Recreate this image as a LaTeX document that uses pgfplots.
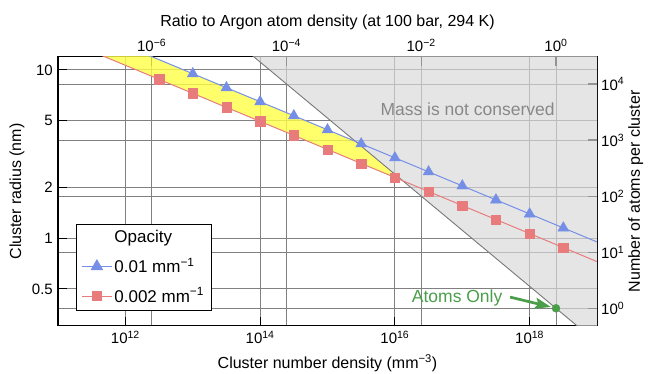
\documentclass[border=0pt]{standalone}
\usepackage{fontspec}
\setmainfont{Liberation Sans}
\usepackage{pgfplots}
\pgfplotsset{compat=1.18}
\usetikzlibrary{arrows.meta}
\definecolor{cblue}{RGB}{118,143,230}
\definecolor{cred}{RGB}{232,124,124}
\definecolor{cgreen}{RGB}{74,158,74}
\definecolor{cgrid}{RGB}{128,128,128}
\definecolor{cline}{RGB}{120,120,120}
\definecolor{cyel}{RGB}{255,255,70}
\definecolor{ctext}{RGB}{136,136,136}
\pgfplotsset{
  every axis/.append style={scale only axis, width=539pt, height=269pt, at={(0,0)}, anchor=south west,
    grid=major,
    major grid style={cgrid, line width=0.9pt},
    xminorticks=false, yminorticks=false,
    tick align=inside, major tick length=9pt,
    major tick style={black, line width=1.1pt},
    axis line style={black, line width=1pt},
    tick label style={font=\fontsize{15}{17}\selectfont},
    label style={font=\fontsize{16}{18}\selectfont},
  }
}
\begin{document}
\fontsize{15}{17}\selectfont
\begin{tikzpicture}
\path[use as bounding box] (-58pt,-48pt) rectangle (592pt,326pt);
% top / right axis
\begin{loglogaxis}[
  xmin=4.065e-8, xmax=4.065, ymin=0.4832, ymax=30250,
  xtick={1e-6,1e-4,1e-2,1},
  xticklabels={10\textsuperscript{−6},10\textsuperscript{−4},10\textsuperscript{−2},10\textsuperscript{0}},
  ytick={1,10,100,1000,10000},
  yticklabels={10\textsuperscript{0},10\textsuperscript{1},10\textsuperscript{2},10\textsuperscript{3},10\textsuperscript{4}},
  xtick pos=right, xticklabel pos=right, ytick pos=right, yticklabel pos=right,
  yticklabel style={anchor=west, xshift=-1pt},
  xlabel={Ratio to Argon atom density (at 100 bar, 294 K)},
  ylabel={Number of atoms per cluster},
  xlabel style={at={(axis description cs:0.5,1.13)}, anchor=center},
  ylabel style={at={(axis description cs:1.072,0.5)}, anchor=center},
]
\end{loglogaxis}
% main axis
\begin{loglogaxis}[
  xmin=1e11, xmax=1e19, ymin=0.3007, ymax=11.94,
  xtick={1e12,1e14,1e16,1e18},
  xticklabels={10\textsuperscript{12},10\textsuperscript{14},10\textsuperscript{16},10\textsuperscript{18}},
  ytick={0.5,1,2,5,10},
  yticklabels={0.5,1,2,5,10},
  xtick pos=left, xticklabel pos=left, ytick pos=left, yticklabel pos=left,
  xlabel={Cluster number density (mm\textsuperscript{−3})},
  ylabel={Cluster radius (nm)},
  xlabel style={at={(axis description cs:0.5,-0.1375)}, anchor=center},
  ylabel style={at={(axis description cs:-0.076,0.5)}, anchor=center},
  legend image code/.code={\draw[mark repeat=2,mark phase=2] plot coordinates {(0pt,0pt)(15pt,0pt)(30pt,0pt)};},
  legend style={at={(axis description cs:0.0334,0.379)}, anchor=north west,
    draw=black, line width=0.8pt, fill=white, font=\fontsize{17}{19}\selectfont,
    inner xsep=5pt, inner ysep=4pt, row sep=9pt},
  legend cell align=left,
]
\addlegendimage{empty legend}
\addlegendentry{Opacity}
\addlegendimage{cblue, line width=1pt, mark=triangle*, mark size=6.3pt}
\addlegendentry{0.01 mm\textsuperscript{−1}}
\addlegendimage{cred, line width=1pt, mark=square*, mark size=4.7pt}
\addlegendentry{0.002 mm\textsuperscript{−1}}

% yellow band (allowed region between the two curves)
\addplot[draw=none, fill=cyel, fill opacity=0.8, forget plot]
  coordinates {(1e11,20.47) (2.607e15,3.758) (1.31e16,2.195) (1e11,15.64)} -- cycle;
% mass not conserved region
\addplot[draw=none, fill=black!15, fill opacity=0.68, forget plot]
  coordinates {(5e13,14.04) (1e19,0.2401) (1e19,14.04)} -- cycle;
\addplot[cline, line width=0.9pt, forget plot]
  coordinates {(5e13,14.04) (1e19,0.2401)};

% curves
\addplot[cblue, line width=1pt, forget plot] coordinates {(1e11,20.47) (1e19,0.95)};
\addplot[cred, line width=1pt, forget plot] coordinates {(1e11,15.64) (1e19,0.726)};

\addplot[only marks, mark=triangle*, mark size=6.3pt, cblue, forget plot] coordinates {
(1e13,9.5) (3.162e13,7.841) (1e14,6.472) (3.162e14,5.342) (1e15,4.409) (3.162e15,3.639)
(1e16,3.004) (3.162e16,2.480) (1e17,2.047) (3.162e17,1.689) (1e18,1.394) (3.162e18,1.151)};
\addplot[only marks, mark=square*, mark size=4.7pt, cred, forget plot] coordinates {
(3.162e12,8.796) (1e13,7.26) (3.162e13,5.992) (1e14,4.946) (3.162e14,4.083) (1e15,3.370)
(3.162e15,2.781) (1e16,2.296) (3.162e16,1.895) (1e17,1.564) (3.162e17,1.291) (1e18,1.066) (3.162e18,0.8795)};

% atoms only
\addplot[only marks, mark=*, mark size=4pt, cgreen, forget plot] coordinates {(2.46e18,0.3832)};
\draw[cgreen, line width=2.7pt, -{Stealth[length=16pt,width=11pt,inset=3pt]}] (axis cs:5.12e17,0.4467) -- (axis cs:2.07e18,0.390);
\node[cgreen, font=\fontsize{17.5}{19}\selectfont] at (axis cs:8.4e16,0.44) {Atoms Only};
\node[ctext, font=\fontsize{17.5}{19}\selectfont] at (axis cs:1.2e17,5.82) {Mass is not conserved};
\end{loglogaxis}
\end{tikzpicture}
\end{document}
